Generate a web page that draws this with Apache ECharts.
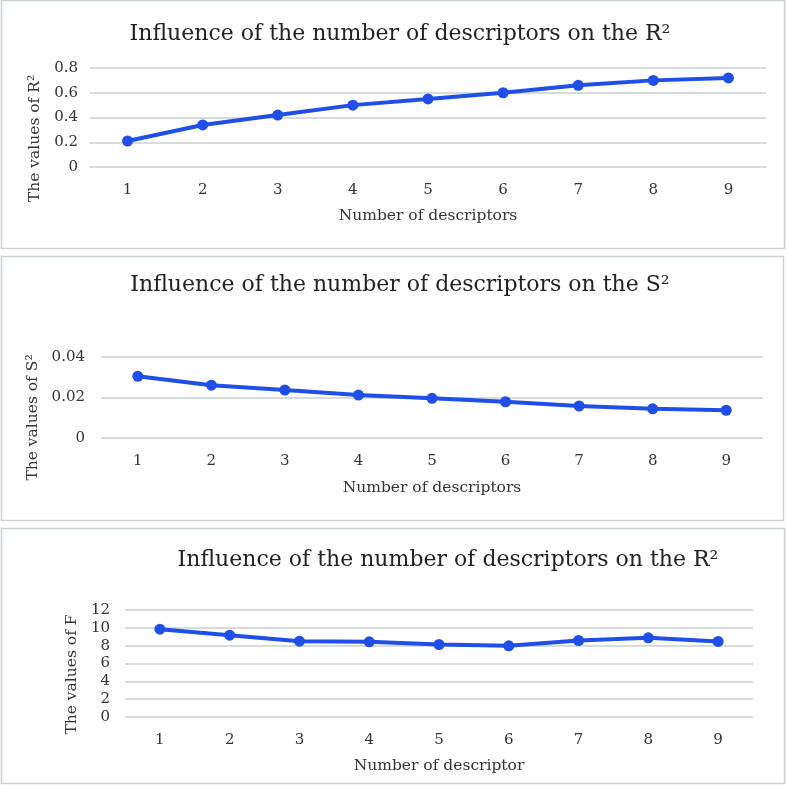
<!DOCTYPE html>
<html>
<head>
<meta charset="utf-8">
<script src="https://cdn.jsdelivr.net/npm/echarts@6/dist/echarts.min.js"></script>
<style>
  html, body { margin: 0; padding: 0; background: #fff; }
  #chart { width: 787px; height: 785px; }
</style>
</head>
<body>
<div id="chart"></div>
<script>
// categories shared by the three panels
var descriptors = ["1", "2", "3", "4", "5", "6", "7", "8", "9"];

// values
var r2Values = [0.21, 0.34, 0.42, 0.50, 0.55, 0.60, 0.66, 0.70, 0.72];
var s2Values = [0.0305, 0.0261, 0.0237, 0.0212, 0.0196, 0.0179, 0.0158, 0.0144, 0.0137];
var fValues = [9.85, 9.18, 8.5, 8.43, 8.13, 7.98, 8.58, 8.88, 8.47];

var titles = [
  "Influence of the number of descriptors on the R\u00b2",
  "Influence of the number of descriptors on the S\u00b2",
  "Influence of the number of descriptors on the R\u00b2"
];
var yNames = ["The values of R\u00b2", "The values of S\u00b2", "The values of F"];
var xNames = ["Number of descriptors", "Number of descriptors", "Number of descriptor"];

var font = "DejaVu Serif";
var lineColor = "#1f4ee8";
var gridColor = "#c9d1d1";

var grids = [
  { left: 90, right: 21, top: 68, height: 99 },
  { left: 101, right: 24, top: 357, height: 81 },
  { left: 125, right: 34, top: 610, height: 107 }
];
var yAxisCfg = [
  { min: 0, max: 0.8, interval: 0.2, fmt: function (v) { return v === 0 ? "0" : v.toFixed(1); } },
  { min: 0, max: 0.04, interval: 0.02, fmt: function (v) { return v === 0 ? "0" : v.toFixed(2); } },
  { min: 0, max: 12, interval: 2, fmt: function (v) { return String(v); } }
];
var titlePos = [
  { left: 395, top: 18 },
  { left: 395, top: 269 },
  { left: 443, top: 544 }
];
var xNameGap = [41, 42, 41];
var yNameGap = [44, 59, 42];
var yNamePad = [[0, 42, 0, 0], [0, 40, 0, 0], [0, 22, 0, 0]];
var yLabelMargin = [12, 16, 15];
var seriesData = [r2Values, s2Values, fValues];

var option = {
  animation: false,
  title: titles.map(function (t, i) {
    return {
      text: t,
      left: titlePos[i].left,
      top: titlePos[i].top,
      textAlign: "center",
      textStyle: { fontFamily: font, fontSize: 22, fontWeight: "normal", color: "#222" }
    };
  }),
  graphic: [
    { type: "rect", shape: { x: 1.5, y: 0.5, width: 783, height: 248 }, style: { fill: "none", stroke: gridColor, lineWidth: 1.5 } },
    { type: "rect", shape: { x: 1.5, y: 256.5, width: 782, height: 264 }, style: { fill: "none", stroke: gridColor, lineWidth: 1.5 } },
    { type: "rect", shape: { x: 1.5, y: 528.5, width: 783, height: 255 }, style: { fill: "none", stroke: gridColor, lineWidth: 1.5 } }
  ],
  grid: grids,
  xAxis: grids.map(function (g, i) {
    return {
      type: "category",
      gridIndex: i,
      data: descriptors,
      boundaryGap: true,
      name: xNames[i],
      nameLocation: "middle",
      nameGap: xNameGap[i],
      nameTextStyle: { fontFamily: font, fontSize: 15.5, color: "#333" },
      axisLine: { show: false },
      axisTick: { show: false },
      axisLabel: { fontFamily: font, fontSize: 15, color: "#333", margin: 16 }
    };
  }),
  yAxis: grids.map(function (g, i) {
    return {
      type: "value",
      gridIndex: i,
      min: yAxisCfg[i].min,
      max: yAxisCfg[i].max,
      interval: yAxisCfg[i].interval,
      name: yNames[i],
      nameLocation: "middle",
      nameGap: yNameGap[i],
      nameTextStyle: { fontFamily: font, fontSize: 15.5, color: "#333", padding: yNamePad[i] },
      axisLine: { show: false },
      axisTick: { show: false },
      splitLine: { lineStyle: { color: gridColor, width: 1.5 } },
      axisLabel: { fontFamily: font, fontSize: 15, color: "#333", margin: yLabelMargin[i], formatter: yAxisCfg[i].fmt }
    };
  }),
  series: seriesData.map(function (d, i) {
    return {
      type: "line",
      xAxisIndex: i,
      yAxisIndex: i,
      data: d,
      symbol: "circle",
      symbolSize: 11,
      lineStyle: { color: lineColor, width: 4 },
      itemStyle: { color: lineColor }
    };
  })
};

var myChart = echarts.init(document.getElementById("chart"));
myChart.setOption(option);
</script>
</body>
</html>
